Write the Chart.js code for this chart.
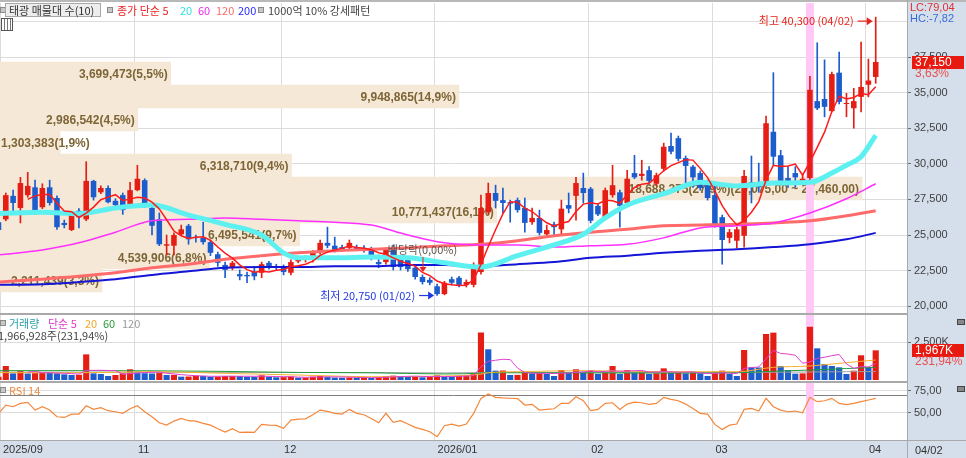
<!DOCTYPE html>
<html>
<head>
<meta charset="utf-8">
<script src="https://cdn.jsdelivr.net/npm/chart.js@4.4.1/dist/chart.umd.min.js"></script>
<style>
html, body { margin: 0; padding: 0; }
body { width: 966px; height: 458px; position: relative; overflow: hidden; background: #d5dfec;
       font-family: "Noto Sans CJK KR", "Liberation Sans", sans-serif; }
.panel { position: absolute; left: 0; width: 907px; background: #fff; }
canvas { position: absolute; left: 0; }
.t { position: absolute; white-space: nowrap; font-size: 11px; line-height: 12px; }
.n { font-family: "Liberation Sans", sans-serif; }
.ln { position: absolute; background: #a9a9a9; }
.sq { position: absolute; width: 4px; height: 4px; border: 1px solid #8a8a8a; background: #c8c8c8; }
.ic { position: absolute; width: 6px; height: 4px; border: 1px solid #444; background: #888; }
</style>
</head>
<body>
<div class="panel" style="top:2px;height:311px"></div>
<div class="panel" style="top:315px;height:66px"></div>
<div class="panel" style="top:383px;height:57px"></div>

<canvas id="profile" width="966" height="313" style="top:0"></canvas>
<canvas id="price" width="966" height="313" style="top:0"></canvas>
<canvas id="volume" width="966" height="68" style="top:313px"></canvas>
<canvas id="rsi" width="966" height="77" style="top:381px"></canvas>

<div class="ln" style="left:0;top:0;width:966px;height:2px;background:#b8b8b8"></div>
<div class="ln" style="left:0;top:313px;width:907px;height:2px"></div>
<div class="ln" style="left:0;top:381px;width:907px;height:2px"></div>
<div class="ln" style="left:0;top:440px;width:966px;height:1px"></div>
<div class="ln" style="left:907px;top:0;width:1px;height:458px"></div>

<!-- price panel legend -->
<div class="sq" style="left:0;top:7px"></div>
<div class="t" style="left:5px;top:3px;width:94px;height:12px;border:1px solid #a8a8a8;background:#ededed"></div>
<div class="t" style="left:9px;top:4px;color:#333">태광 매물대 수(10)</div>
<div class="sq" style="left:107px;top:7px"></div>
<div class="t" style="left:117px;top:4px;color:#ee2222">종가 단순 5</div>
<div class="t" style="left:180px;top:4px;color:#2fe0e6">20</div>
<div class="t" style="left:198px;top:4px;color:#f028f0">60</div>
<div class="t" style="left:216px;top:4px;color:#ff6a6a">120</div>
<div class="t" style="left:238px;top:4px;color:#2a2aff">200</div>
<div class="sq" style="left:258px;top:7px"></div>
<div class="t" style="left:268px;top:4px;color:#444">1000억 10% 강세패턴</div>
<div style="position:absolute;left:1px;top:18px;width:10px;height:11px;border:1px solid #555;background:repeating-linear-gradient(90deg,#fff 0 2px,#777 2px 3px)"></div>

<!-- right axis notes -->
<div class="t n" style="left:910px;top:1px;color:#e03030">LC:79,04</div>
<div class="t n" style="left:910px;top:12px;color:#3a6ad8">HC:-7,82</div>

<!-- volume panel legend -->
<div class="sq" style="left:0;top:320px"></div>
<div class="t" style="left:9px;top:317px;color:#2a9fa6">거래량</div>
<div class="t" style="left:48px;top:317px;color:#e03ccc">단순 5</div>
<div class="t" style="left:85px;top:317px;color:#f0a828">20</div>
<div class="t" style="left:103px;top:317px;color:#2a9a3a">60</div>
<div class="t" style="left:122px;top:317px;color:#9a9a9a">120</div>
<div class="t" id="volNote" style="left:-2px;top:329px;color:#444"></div>
<div class="ic" style="left:957px;top:319px"></div>

<!-- rsi panel legend -->
<div class="sq" style="left:0;top:387px"></div>
<div class="t" style="left:9px;top:384px;color:#f08a40">RSI 14</div>
<div class="ic" style="left:957px;top:386px"></div>

<div class="t n" style="left:915px;top:444px;color:#333">04/02</div>

<script>
// trading days on screen, by month
const tradingDays = [
  ['09', [30]],
  ['10', [1, 2, 10, 13, 14, 15, 16, 17, 20, 21, 22, 23, 24, 27, 28, 29, 30, 31]],
  ['11', [3, 4, 5, 6, 7, 10, 11, 12, 13, 14, 17, 18, 19, 20, 21, 24, 25, 26, 27, 28]],
  ['12', [1, 2, 3, 4, 5, 8, 9, 10, 11, 12, 15, 16, 17, 18, 19, 22, 23, 24, 26, 29, 30]],
  ['01', [2, 5, 6, 7, 8, 9, 12, 13, 14, 15, 16, 19, 20, 21, 22, 23, 26, 27, 28, 29, 30]],
  ['02', [2, 3, 4, 5, 6, 9, 10, 11, 12, 13, 19, 20, 23, 24, 25, 26, 27]],
  ['03', [3, 4, 5, 6, 9, 10, 11, 12, 13, 16, 17, 18, 19, 20, 23, 24, 25, 26, 27, 30, 31]],
  ['04', [1, 2]]
];
const dates = tradingDays.flatMap(([m, days]) => days.map(d => m + '/' + String(d).padStart(2, '0')));

const firstLabel = '2025/09';
const tickDates = ['11/03', '12/01', '01/02', '02/02', '03/03', '04/01'];
const tickLabels = ['11', '12', '2026/01', '02', '03', '04'];
const priceTicks = [20000, 22500, 25000, 27500, 30000, 32500, 35000, 37500];

const opens = [
  25900, 26100, 27750, 26900, 27800, 28350, 26950, 28350, 27600, 25850,
  25350, 26700, 26100, 28800, 28000, 28300, 27400, 27800, 27100, 28150,
  28850, 26900, 26100, 24250, 24250, 25050, 25650, 24850, 24800, 24500,
  23650, 22900, 22750, 22250, 22200, 22400, 22350, 23050, 22800, 22750,
  22350, 23150, 23250, 23250, 23800, 24450, 24250, 24150, 24100, 24150,
  24100, 24000, 23100, 23100, 23950, 23400, 23250, 22700, 22050, 21850,
  21400, 20850, 21900, 22000, 21500, 21500, 22400, 26600, 27950, 27450,
  27300, 27450, 26900, 25900, 26200, 25050, 25750, 25400, 27100, 27750,
  28300, 28250, 27050, 26250, 27800, 28000, 27250, 29350, 29150, 29550,
  28600, 29650, 31250, 31800, 30400, 29800, 29350, 28700, 27800, 26250,
  24800, 24600, 24950, 28700, 28650, 28650, 32250, 30600, 29000, 29350,
  28800, 29000, 34400, 34550, 33700, 36400, 34200, 33900, 34700, 35550,
  36100
];
const highs = [
  26200, 27950, 28150, 29050, 29400, 28850, 28600, 28850, 27750, 26050,
  26550, 26850, 30150, 28850, 28450, 28450, 27550, 27950, 28700, 29900,
  28950, 27100, 26550, 25000, 25150, 25700, 25750, 25000, 25900, 24650,
  23800, 23100, 23150, 22550, 22400, 22700, 23100, 23150, 22950, 22900,
  23250, 23450, 23550, 23900, 24650, 25550, 24850, 24300, 24650, 24300,
  24250, 24150, 23600, 24100, 24300, 23550, 23400, 22800, 22200, 22000,
  21550, 21750, 22050, 22100, 21850, 23050, 27800, 28650, 28500, 28300,
  27450, 27600, 27600, 26900, 26750, 25700, 25900, 27450, 27950, 29050,
  29350, 28350, 27200, 28300, 29900, 28150, 29550, 30600, 30250, 29800,
  29350, 31450, 32150, 31950, 30550, 29900, 29500, 28850, 28650, 26400,
  25400, 25550, 29550, 30550, 30050, 33350, 36400, 30950, 29800, 29800,
  29200, 36150, 38500, 37300, 36450, 37850, 34950, 35300, 38550, 37350,
  40300
];
const lows = [
  25200, 26000, 26600, 25850, 27650, 26450, 26850, 27100, 25400, 25500,
  25300, 25500, 26000, 27450, 27900, 27250, 26950, 26450, 26950, 28100,
  26950, 25000, 24250, 23600, 23600, 24950, 24350, 24500, 24350, 23550,
  22800, 22000, 22550, 21850, 21650, 21850, 22000, 22600, 22550, 22200,
  22200, 23050, 23100, 23100, 23650, 24100, 23800, 23900, 23950, 23900,
  23800, 23250, 22700, 22950, 22550, 22550, 22450, 21900, 21550, 21500,
  20750, 20800, 21500, 21350, 21350, 21350, 22250, 26450, 26900, 26550,
  25900, 26600, 25200, 25750, 25000, 24850, 25000, 25000, 26550, 26050,
  27250, 25850, 26350, 26200, 27650, 25550, 27100, 28950, 28850, 28650,
  28450, 29500, 30700, 30200, 28500, 28350, 28150, 27450, 25550, 22950,
  24450, 24100, 24150, 27250, 28000, 28500, 29900, 28500, 28350, 28350,
  28650, 28850, 33800, 33300, 33650, 34200, 33300, 32500, 33650, 34700,
  35650
];
const closes = [
  25350, 27800, 27250, 28650, 28450, 26600, 28300, 27250, 25550, 25700,
  26400, 26250, 28800, 27650, 28300, 27300, 27100, 26750, 28150, 28950,
  27050, 25650, 24350, 24350, 25000, 25400, 24700, 24800, 24500, 23750,
  23050, 22550, 23050, 22100, 22100, 22100, 22950, 22750, 22700, 22400,
  23100, 23250, 23300, 23750, 24450, 24250, 23950, 24000, 24450, 24000,
  23950, 23400, 22950, 23950, 22750, 22750, 22600, 22050, 21700, 21650,
  20850, 21650, 21650, 21500, 21700, 22900, 26900, 27950, 27400, 27250,
  27200, 26750, 25850, 26200, 25150, 25350, 25550, 26850, 26850, 28650,
  27950, 26000, 26450, 28150, 28500, 27050, 28950, 29050, 29300, 28800,
  29200, 31200, 30850, 30350, 29850, 29050, 28300, 27600, 25700, 24650,
  25200, 25400, 29150, 28600, 28350, 32850, 30500, 28800, 28700, 29050,
  28950, 35200, 33900, 34000, 36300, 34350, 34250, 34400, 35400, 35850,
  37150
];
// volume, thousand shares
const volumes = [
  220, 930, 440, 600, 430, 455, 490, 470, 440, 375,
  330, 345, 1700, 440, 400, 265, 330, 440, 710, 550,
  450, 430, 460, 330, 340, 220, 230, 290, 265, 220,
  230, 265, 270, 260, 220, 210, 310, 220, 180, 190,
  220, 155, 160, 220, 265, 220, 160, 150, 165, 150,
  160, 145, 180, 265, 290, 265, 220, 230, 180, 220,
  310, 220, 215, 265, 310, 440, 3150, 2035, 620, 630,
  330, 340, 550, 440, 490, 400, 265, 663, 490, 710,
  550, 620, 400, 550, 930, 400, 663, 550, 600, 400,
  440, 773, 490, 495, 440, 490, 440, 265, 550, 620,
  400, 265, 1990, 840, 830, 3050, 3140, 930, 663, 420,
  440, 3530, 2100, 1060, 930, 840, 400, 620, 1640, 848.033,
  1966.928
];
const rsi14 = [
  49, 58.7, 56.8, 60.6, 61.7, 53, 56.8, 53, 45.4, 44.6,
  48.4, 48.4, 57.9, 53.8, 55.7, 52.3, 51.1, 49.3, 54.5, 57.9,
  51.1, 45.4, 38.6, 35.9, 40.5, 43.5, 40.9, 40.5, 37.9, 35.9,
  31.8, 28, 31.8, 27.6, 28, 27.6, 36.7, 35.9, 35.6, 32.2,
  41.6, 42.8, 43.1, 47.7, 53, 51.5, 49.3, 48.5, 53.8, 49.3,
  47.7, 43.5, 38.6, 49.3, 39, 40.9, 37.1, 33.3, 31, 28.4,
  22.7, 35.2, 37.1, 34.8, 37.1, 49.3, 66.3, 71.2, 67.5, 66.8,
  66.4, 66, 58.7, 59.5, 53, 53.8, 54.5, 60.6, 60.6, 68.2,
  63.6, 52.3, 53.8, 60.6, 61.3, 53.8, 59.8, 62.1, 61.3, 59.5,
  60.6, 67.5, 65.2, 63.6, 59.8, 54.9, 49.3, 48.5, 36.7, 31,
  35.9, 37.1, 53.8, 54.9, 51.9, 66.3, 56.8, 53, 51.1, 51.9,
  50, 67.5, 62.5, 63.6, 66.3, 60.6, 59.1, 60.6, 62.5, 64.4,
  66.3
];

// moving averages at sample days (index into dates)
const ma20Idx = [0, 6, 11, 16, 21, 26, 31, 36, 39, 41, 46, 51, 56, 61, 66, 71, 76, 80, 83, 86, 91, 96, 101, 106, 111, 114, 116, 118, 120];
const ma20 = [26500, 26600, 26500, 26900, 27100, 26400, 25750, 25000, 23750, 23400, 23400, 23450, 23400, 23050, 22750, 23550, 24300, 25050, 26200, 27100, 27900, 28700, 28450, 28650, 28700, 29350, 29900, 30500, 32000];
const maIdx = [0, 6, 11, 16, 21, 26, 31, 36, 41, 46, 51, 56, 61, 66, 71, 76, 81, 86, 91, 96, 101, 106, 111, 116, 120];
const ma60 = [23600, 23950, 24450, 25200, 26000, 26100, 26200, 26100, 26000, 25900, 25700, 25000, 24450, 24300, 24300, 24150, 24250, 24350, 24800, 25500, 25650, 25850, 26550, 27550, 28600];
const ma120 = [21700, 21900, 22100, 22350, 22700, 22950, 23300, 23550, 23750, 23900, 24000, 24100, 24250, 24350, 24600, 24950, 25200, 25400, 25650, 25700, 25750, 25850, 26000, 26350, 26700];
const ma200 = [21500, 21550, 21700, 21900, 22200, 22450, 22700, 22750, 22750, 22800, 22800, 22900, 22900, 22800, 22950, 23100, 23400, 23550, 23750, 23900, 24000, 24150, 24350, 24700, 25150];

const volMaIdx = [0, 11, 21, 31, 41, 51, 61, 66, 67, 71, 81, 91, 101, 106, 111, 116, 120];
const volMa20 = [486, 480, 550, 442, 330, 220, 265, 390, 480, 550, 620, 550, 550, 840, 930, 1150, 1326];
const volMa60 = [620, 620, 610, 570, 500, 480, 400, 450, 480, 480, 470, 460, 480, 580, 660, 760, 840];
const volMa120 = [520, 515, 510, 505, 500, 490, 470, 490, 500, 500, 500, 495, 500, 515, 530, 550, 560];

// volume profile (bands from low to high)
const profileRange = [21000, 37150];
const profileVol = [2211439, 4539906, 6495541, 10771437, 18688375, 6318710, 1303383, 2986542, 9948865, 3699473];

const markedDay = '03/20';
const exDivDay = '12/29';

// ---- layout constants ----
const X_MIN = 0.2066, X_MAX = 124.28;
const Y_MIN = 19524, Y_MAX = 41292;
const VOL_MAX = 4310;
const RSI_MIN = 19, RSI_MAX = 83.75;
const PROFILE_MAX = 19664000;
const GRID = '#dcdcdc';
const UP = '#e41e14', DOWN = '#1c5ccc';
const PINK = '#ffc8f6';

Chart.defaults.font.family = '"Liberation Sans", "Noto Sans CJK KR", sans-serif';
Chart.defaults.font.size = 11;
Chart.defaults.color = '#404040';

const fmt = v => Math.round(v).toLocaleString('en-US');
const dec = (v, n) => v.toFixed(n).replace('.', ',');
const pts = (idx, vals) => idx.map((k, j) => ({ x: k, y: vals[j] }));
const series = vals => vals.map((v, k) => ({ x: k, y: v }));

const markIdx = dates.indexOf(markedDay);
const xTicks = [X_MIN].concat(tickDates.map(d => dates.indexOf(d) - 0.34));
const xLabels = [firstLabel].concat(tickLabels);

const candleColor = closes.map((c, k) => c >= opens[k] ? UP : DOWN);
const volColor = volumes.map((v, k) => (k === 0 || v >= volumes[k - 1]) ? UP : DOWN);
const ma5 = closes.map((c, k) => k < 4 ? null : closes.slice(k - 4, k + 1).reduce((a, b) => a + b, 0) / 5);
const volMa5 = volumes.map((v, k) => k < 4 ? null : volumes.slice(k - 4, k + 1).reduce((a, b) => a + b, 0) / 5);

const last = closes.length - 1;
const pricePct = (closes[last] / closes[last - 1] - 1) * 100;
const volPct = volumes[last] / volumes[last - 1] * 100;
document.getElementById('volNote').textContent = fmt(volumes[last] * 1000) + '주(' + dec(volPct, 2) + '%)';

// pink column on the marked day; the null days keep the bar slot one day wide
const markBar = (lo, hi) => dates.map((d, k) => ({ x: k, y: k === markIdx ? [lo, hi] : null }));

function xAxis(showLabels) {
  return {
    type: 'linear', axis: 'x', position: 'bottom', min: X_MIN, max: X_MAX, offset: false,
    afterBuildTicks: s => { s.ticks = xTicks.map(v => ({ value: v })); },
    afterFit: s => { s.height = showLabels ? 18 : 0; s.paddingLeft = 0; s.paddingRight = 0; },
    grid: { color: GRID, offset: false, drawTicks: showLabels, tickLength: 18, tickColor: GRID },
    border: { display: false },
    ticks: {
      display: showLabels, autoSkip: false, maxRotation: 0, align: 'start', labelOffset: 3,
      padding: -15, color: '#333', font: { size: 11 }, callback: (v, i) => xLabels[i]
    }
  };
}

function rightAxis(min, max, ticks, label, extra) {
  return Object.assign({
    type: 'linear', position: 'right', min: min, max: max,
    afterBuildTicks: s => { s.ticks = ticks.map(v => ({ value: v })); },
    afterFit: s => { s.width = 59; s.paddingTop = 0; s.paddingBottom = 0; },
    grid: { color: GRID, drawOnChartArea: false, drawTicks: true, tickLength: 4, tickColor: '#707070' },
    border: { display: false },
    ticks: { padding: 3, color: '#404040', font: { size: 11 }, callback: label }
  }, extra || {});
}

const baseOptions = {
  responsive: false, animation: false, events: [],
  plugins: { legend: { display: false }, tooltip: { enabled: false } }
};

// tag with the latest value on the right axis
const lastTag = {
  id: 'lastTag',
  afterDraw(chart, args, opts) {
    const { ctx, chartArea } = chart;
    const py = Math.round(chart.scales.y.getPixelForValue(opts.value));
    ctx.save();
    ctx.fillStyle = '#e8190f';
    ctx.fillRect(chartArea.right + 5, py - 6, chart.width - chartArea.right - 7, 13);
    ctx.font = '12px "Liberation Sans"';
    ctx.textBaseline = 'middle';
    ctx.fillStyle = '#fff';
    ctx.fillText(opts.text, chartArea.right + 8, py + 0.5);
    ctx.fillStyle = '#e85050';
    ctx.fillText(opts.sub, chartArea.right + 8, py + 12);
    ctx.restore();
  }
};

function arrowNote(ctx, px, py, text, color) {
  ctx.fillStyle = color;
  ctx.strokeStyle = color;
  ctx.lineWidth = 1.2;
  ctx.textAlign = 'right';
  ctx.textBaseline = 'middle';
  ctx.fillText(text, px - 22, py);
  ctx.beginPath();
  ctx.moveTo(px - 18, py);
  ctx.lineTo(px - 8, py);
  ctx.stroke();
  ctx.beginPath();
  ctx.moveTo(px - 3, py);
  ctx.lineTo(px - 9, py - 4);
  ctx.lineTo(px - 9, py + 4);
  ctx.closePath();
  ctx.fill();
}

const priceNotes = {
  id: 'priceNotes',
  afterDatasetsDraw(chart) {
    const { ctx, scales: { x, y } } = chart;
    ctx.save();
    ctx.font = '11px "Noto Sans CJK KR"';
    const hi = Math.max(...highs), hk = highs.indexOf(hi);
    arrowNote(ctx, x.getPixelForValue(hk), y.getPixelForValue(hi) + 4,
      '최고 ' + fmt(hi) + ' (' + dates[hk] + ')', '#e8231a');
    const lo = Math.min(...lows), lk = lows.indexOf(lo);
    arrowNote(ctx, x.getPixelForValue(lk), y.getPixelForValue(lo),
      '최저 ' + fmt(lo) + ' (' + dates[lk] + ')', '#2038e0');
    const ek = dates.indexOf(exDivDay);
    const ex = x.getPixelForValue(ek), ey = y.getPixelForValue(highs[ek]);
    ctx.fillStyle = '#5a5048';
    ctx.textAlign = 'center';
    ctx.textBaseline = 'middle';
    ctx.fillText('배당락(0,00%)', ex, ey - 25);
    ctx.strokeStyle = '#e8231a';
    ctx.fillStyle = '#e8231a';
    ctx.lineWidth = 1;
    ctx.beginPath();
    ctx.moveTo(ex + 0.5, ey - 18);
    ctx.lineTo(ex + 0.5, ey - 7);
    ctx.stroke();
    ctx.beginPath();
    ctx.moveTo(ex + 0.5, ey - 3);
    ctx.lineTo(ex - 3, ey - 8);
    ctx.lineTo(ex + 4, ey - 8);
    ctx.closePath();
    ctx.fill();
    ctx.restore();
  }
};

// ---- volume profile behind the price panel ----
const bandStep = (profileRange[1] - profileRange[0]) / profileVol.length;
const profileTotal = profileVol.reduce((a, b) => a + b, 0);
const profileMax = Math.max(...profileVol);
function profileText(j) {
  let s = fmt(profileVol[j]) + '(' + dec(profileVol[j] / profileTotal * 100, 1) + '%)';
  if (profileVol[j] === profileMax) {
    const lo = profileRange[0] + j * bandStep;
    s += '(' + fmt(lo + bandStep) + ',00 ~ ' + fmt(lo) + ',00)';
  }
  return s;
}
const profileLabels = {
  id: 'profileLabels',
  afterDatasetsDraw(chart) {
    const ctx = chart.ctx;
    ctx.save();
    ctx.font = 'bold 12px "Liberation Sans"';
    ctx.fillStyle = '#7d6536';
    ctx.textBaseline = 'middle';
    chart.getDatasetMeta(0).data.forEach((bar, j) => {
      const text = profileText(j);
      const w = ctx.measureText(text).width;
      if (w + 5 < bar.x - bar.base) {
        ctx.textAlign = 'right';
        ctx.fillText(text, bar.x - 3, bar.y + 1);
      } else {
        ctx.textAlign = 'left';
        ctx.fillText(text, bar.base + 1, bar.y + 1);
      }
    });
    ctx.restore();
  }
};

new Chart(document.getElementById('profile'), {
  type: 'bar',
  data: {
    datasets: [{
      data: profileVol.map((v, j) => ({ x: v, y: profileRange[0] + (j + 0.5) * bandStep })),
      backgroundColor: '#f5e8d6', borderWidth: 0, barPercentage: 1, categoryPercentage: 1
    }]
  },
  options: Object.assign({}, baseOptions, {
    indexAxis: 'y',
    layout: { padding: { top: 3 } },
    scales: {
      x: { type: 'linear', min: 0, max: PROFILE_MAX, display: false },
      xm: xAxis(false),
      y: {
        type: 'linear', position: 'right', min: Y_MIN, max: Y_MAX, offset: false,
        afterBuildTicks: s => { s.ticks = priceTicks.concat([40000]).map(v => ({ value: v })); },
        afterFit: s => { s.width = 59; s.paddingTop = 0; s.paddingBottom = 0; },
        grid: { color: GRID, drawTicks: false, offset: false },
        border: { display: false },
        ticks: { display: false }
      }
    }
  }),
  plugins: [profileLabels]
});

// ---- price panel ----
new Chart(document.getElementById('price'), {
  type: 'bar',
  data: {
    datasets: [
      { type: 'bar', data: markBar(Y_MIN, Y_MAX), backgroundColor: PINK,
        barPercentage: 1, categoryPercentage: 1, grouped: false, order: 20 },
      { type: 'bar', data: lows.map((l, k) => ({ x: k, y: [l, highs[k]] })), backgroundColor: candleColor,
        barThickness: 1, grouped: false, order: 12 },
      { type: 'bar', data: opens.map((o, k) => ({ x: k, y: [o, closes[k]] })), backgroundColor: candleColor,
        barPercentage: 0.76, categoryPercentage: 1, minBarLength: 1, grouped: false, order: 11 },
      { type: 'line', data: pts(maIdx, ma200), borderColor: '#1515d8', borderWidth: 2, pointRadius: 0,
        cubicInterpolationMode: 'monotone', order: 5 },
      { type: 'line', data: pts(maIdx, ma120), borderColor: '#ff6b6b', borderWidth: 3, pointRadius: 0,
        cubicInterpolationMode: 'monotone', order: 4 },
      { type: 'line', data: pts(maIdx, ma60), borderColor: '#ff30ff', borderWidth: 1.5, pointRadius: 0,
        cubicInterpolationMode: 'monotone', order: 3 },
      { type: 'line', data: pts(ma20Idx, ma20), borderColor: '#5cf0f0', borderWidth: 5, pointRadius: 0,
        cubicInterpolationMode: 'monotone', order: 2 },
      { type: 'line', data: series(ma5), borderColor: '#ff1a1a', borderWidth: 1.5, pointRadius: 0, order: 1 }
    ]
  },
  options: Object.assign({}, baseOptions, {
    layout: { padding: { top: 3 } },
    plugins: Object.assign({}, baseOptions.plugins, {
      lastTag: { value: closes[last], text: fmt(closes[last]), sub: dec(pricePct, 2) + '%' }
    }),
    scales: {
      x: { type: 'linear', min: X_MIN, max: X_MAX, offset: false, display: false, grid: { offset: false } },
      y: rightAxis(Y_MIN, Y_MAX, priceTicks, v => fmt(v))
    }
  }),
  plugins: [priceNotes, lastTag]
});

// ---- volume panel ----
new Chart(document.getElementById('volume'), {
  type: 'bar',
  data: {
    datasets: [
      { type: 'bar', data: markBar(0, VOL_MAX), backgroundColor: PINK,
        barPercentage: 1, categoryPercentage: 1, grouped: false, order: 20 },
      { type: 'bar', data: series(volumes), backgroundColor: volColor,
        barPercentage: 0.84, categoryPercentage: 1, grouped: false, order: 10 },
      { type: 'line', data: pts(volMaIdx, volMa120), borderColor: '#a0a0a0', borderWidth: 1, pointRadius: 0,
        cubicInterpolationMode: 'monotone', order: 4 },
      { type: 'line', data: pts(volMaIdx, volMa60), borderColor: '#1f9a3c', borderWidth: 1, pointRadius: 0,
        cubicInterpolationMode: 'monotone', order: 3 },
      { type: 'line', data: pts(volMaIdx, volMa20), borderColor: '#f6b030', borderWidth: 1, pointRadius: 0,
        cubicInterpolationMode: 'monotone', order: 2 },
      { type: 'line', data: series(volMa5), borderColor: '#e040d0', borderWidth: 1, pointRadius: 0, order: 1 }
    ]
  },
  options: Object.assign({}, baseOptions, {
    layout: { padding: { top: 2, bottom: 1 } },
    plugins: Object.assign({}, baseOptions.plugins, {
      lastTag: { value: volumes[last], text: fmt(volumes[last]) + 'K', sub: dec(volPct, 2) + '%' }
    }),
    scales: {
      x: xAxis(false),
      y: rightAxis(0, VOL_MAX, [2500], v => fmt(v) + 'K', {
        grid: { color: GRID, drawOnChartArea: true, drawTicks: true, tickLength: 4, tickColor: '#707070' }
      })
    }
  }),
  plugins: [lastTag]
});

// ---- RSI panel ----
new Chart(document.getElementById('rsi'), {
  type: 'bar',
  data: {
    datasets: [
      { type: 'bar', data: markBar(RSI_MIN, RSI_MAX), backgroundColor: PINK,
        barPercentage: 1, categoryPercentage: 1, grouped: false, order: 20 },
      { type: 'line', data: series(rsi14), borderColor: '#f4873a', borderWidth: 1.2, pointRadius: 0, order: 1 }
    ]
  },
  options: Object.assign({}, baseOptions, {
    layout: { padding: { top: 2 } },
    scales: {
      x: xAxis(true),
      y: rightAxis(RSI_MIN, RSI_MAX, [50, 70, 75], v => v === 70 ? '' : dec(v, 2), {
        grid: {
          drawOnChartArea: true, drawTicks: true, tickLength: 4,
          color: c => c.tick && c.tick.value === 70 ? '#808080' : GRID,
          tickColor: c => c.tick && c.tick.value === 70 ? 'rgba(0,0,0,0)' : '#707070'
        }
      })
    }
  })
});
</script>
</body>
</html>
